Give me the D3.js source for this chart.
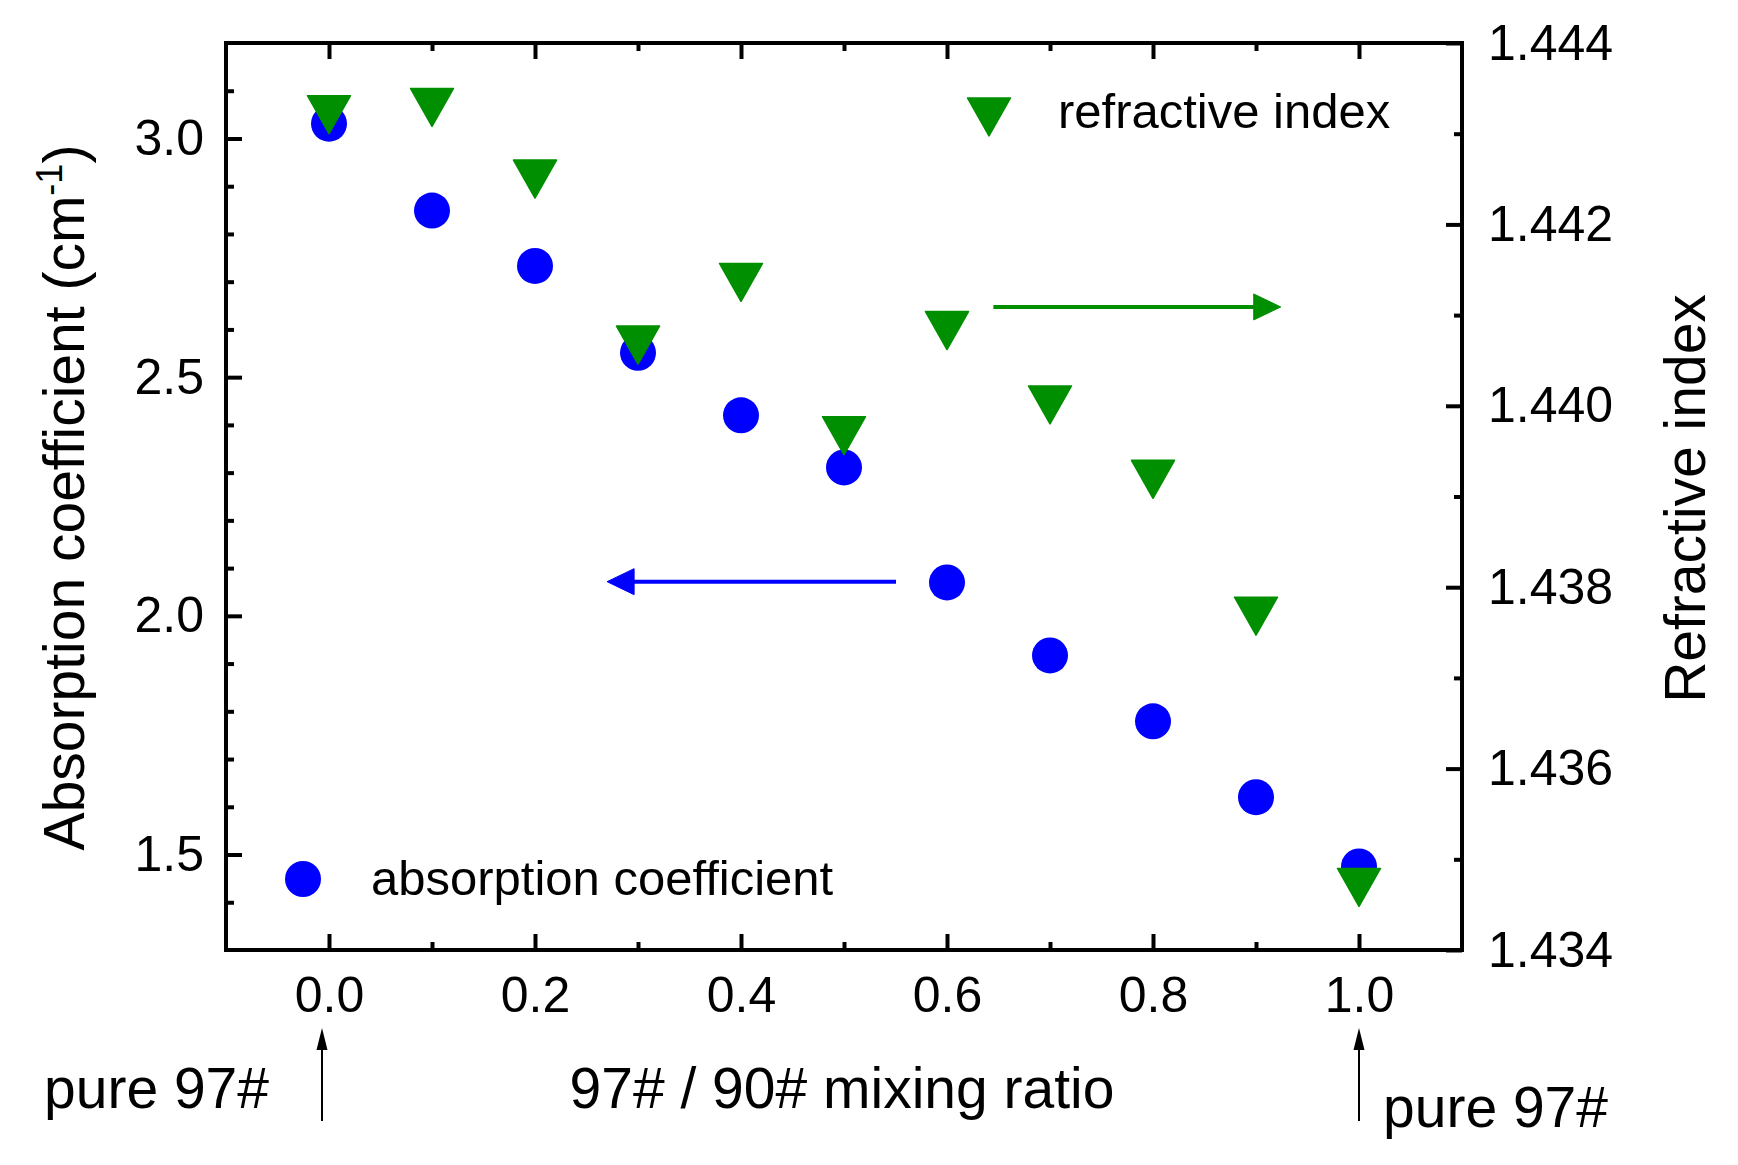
<!DOCTYPE html>
<html>
<head>
<meta charset="utf-8">
<script src="https://cdn.jsdelivr.net/npm/d3@7"></script>
<style>
  html, body { margin: 0; padding: 0; background: #fff; }
  svg { display: block; }
  text { font-family: "Liberation Sans", Arial, sans-serif; fill: #000; }
</style>
</head>
<body>
<svg id="chart" width="1738" height="1165"></svg>
<script>
// ---------------- data ----------------
const mixingRatio = [0.0, 0.1, 0.2, 0.3, 0.4, 0.5, 0.6, 0.7, 0.8, 0.9, 1.0];
const absorption  = [3.031, 2.849, 2.733, 2.551, 2.420, 2.311, 2.070, 1.917, 1.779, 1.620, 1.475];
const refractive  = [1.44321, 1.44329, 1.44250, 1.44067, 1.44136, 1.43967, 1.44083, 1.44001, 1.43919, 1.43768, 1.43469];

const xMajorTicks = [0.0, 0.2, 0.4, 0.6, 0.8, 1.0];
const xMinorTicks = [0.1, 0.3, 0.5, 0.7, 0.9];
const xTickLabels = ["0.0", "0.2", "0.4", "0.6", "0.8", "1.0"];
const leftMajorTicks = [1.5, 2.0, 2.5, 3.0];
const leftMinorTicks = [1.4, 1.6, 1.7, 1.8, 1.9, 2.1, 2.2, 2.3, 2.4, 2.6, 2.7, 2.8, 2.9, 3.1];
const leftTickLabels = ["1.5", "2.0", "2.5", "3.0"];
const rightMajorTicks = [1.434, 1.436, 1.438, 1.440, 1.442, 1.444];
const rightMinorTicks = [1.435, 1.437, 1.439, 1.441, 1.443];
const rightTickLabels = ["1.434", "1.436", "1.438", "1.440", "1.442", "1.444"];

const xTitle = "97# / 90# mixing ratio";
const leftTitle = "Absorption coefficient (cm";
const leftTitleSup = "-1";
const rightTitle = "Refractive index";
const legendLabels = ["refractive index", "absorption coefficient"];
const pureLabels = ["pure 97#", "pure 97#"];

// direction arrows (in data units): x start, x end, y value
const greenArrow = { x1: 0.645, x2: 0.924, y: 1.44109 };
const blueArrow  = { x1: 0.5505, x2: 0.270, y: 2.0716 };

// ---------------- layout ----------------
const blue = "#0000ff";
const green = "#008f00";
const L = 226, R = 1462, T = 43, B = 950;

const x = d3.scaleLinear().domain([-0.1, 1.1]).range([L, R]);
const yL = d3.scaleLinear().domain([1.3, 3.2]).range([B, T]);
const yR = d3.scaleLinear().domain([1.434, 1.444]).range([B, T]);

const svg = d3.select("#chart");
const FS = 50, LFS = 49, TFS = 57;

function styleAxis(g) {
  g.select(".domain").remove();
  g.selectAll(".tick line").attr("stroke", "#000").attr("stroke-width", 4);
  g.selectAll(".tick text").attr("font-size", FS).attr("font-family", '"Liberation Sans", Arial, sans-serif').attr("fill", "#000");
}

// bottom
svg.append("g").attr("transform", `translate(0,${B})`)
  .call(d3.axisBottom(x).tickValues(xMajorTicks).tickSize(-16).tickPadding(26)
        .tickFormat((d, i) => xTickLabels[i]))
  .call(styleAxis);
svg.append("g").attr("transform", `translate(0,${B})`)
  .call(d3.axisBottom(x).tickValues(xMinorTicks).tickSize(-8).tickFormat(""))
  .call(styleAxis);
// top
svg.append("g").attr("transform", `translate(0,${T})`)
  .call(d3.axisTop(x).tickValues(xMajorTicks).tickSize(-16).tickFormat(""))
  .call(styleAxis);
svg.append("g").attr("transform", `translate(0,${T})`)
  .call(d3.axisTop(x).tickValues(xMinorTicks).tickSize(-8).tickFormat(""))
  .call(styleAxis);
// left
svg.append("g").attr("transform", `translate(${L},0)`)
  .call(d3.axisLeft(yL).tickValues(leftMajorTicks).tickSize(-16).tickPadding(22)
        .tickFormat((d, i) => leftTickLabels[i]))
  .call(styleAxis);
svg.append("g").attr("transform", `translate(${L},0)`)
  .call(d3.axisLeft(yL).tickValues(leftMinorTicks).tickSize(-8).tickFormat(""))
  .call(styleAxis);
// right
svg.append("g").attr("transform", `translate(${R},0)`)
  .call(d3.axisRight(yR).tickValues(rightMajorTicks).tickSize(-16).tickPadding(26)
        .tickFormat((d, i) => rightTickLabels[i]))
  .call(styleAxis);
svg.append("g").attr("transform", `translate(${R},0)`)
  .call(d3.axisRight(yR).tickValues(rightMinorTicks).tickSize(-8).tickFormat(""))
  .call(styleAxis);

// frame
svg.append("rect").attr("x", L).attr("y", T).attr("width", R - L).attr("height", B - T)
  .attr("fill", "none").attr("stroke", "#000").attr("stroke-width", 4);

// markers
const triPath = "M-21.5,-19L21.5,-19L0,19Z";
const circR = 18;

svg.append("g").selectAll("circle").data(mixingRatio).join("circle")
  .attr("cx", d => x(d)).attr("cy", (d, i) => yL(absorption[i])).attr("r", circR)
  .attr("fill", blue);

svg.append("g").selectAll("path").data(mixingRatio).join("path")
  .attr("d", triPath)
  .attr("transform", (d, i) => `translate(${x(d)},${yR(refractive[i])})`)
  .attr("fill", green).attr("stroke", green).attr("stroke-width", 1.5).attr("stroke-linejoin", "round");

// legends
svg.append("path").attr("d", triPath).attr("transform", "translate(989,117)")
  .attr("fill", green).attr("stroke", green).attr("stroke-width", 1.5).attr("stroke-linejoin", "round");
svg.append("text").attr("x", 1058).attr("y", 128).attr("font-size", LFS).text(legendLabels[0]);
svg.append("circle").attr("cx", 303).attr("cy", 879).attr("r", circR).attr("fill", blue);
svg.append("text").attr("x", 371).attr("y", 895).attr("font-size", LFS).text(legendLabels[1]);

// colored direction arrows
function hArrow(a, scaleY, color) {
  const y = scaleY(a.y);
  const x1 = x(a.x1), x2 = x(a.x2);
  const dir = Math.sign(x2 - x1);
  const headLen = 27, headHalf = 13;
  svg.append("line").attr("x1", x1).attr("y1", y).attr("x2", x2 - dir * headLen + dir * 2).attr("y2", y)
    .attr("stroke", color).attr("stroke-width", 4);
  svg.append("path")
    .attr("d", `M${x2},${y}L${x2 - dir * headLen},${y - headHalf}L${x2 - dir * headLen},${y + headHalf}Z`)
    .attr("fill", color).attr("stroke", color).attr("stroke-width", 1).attr("stroke-linejoin", "round");
}
hArrow(greenArrow, yR, green);
hArrow(blueArrow, yL, blue);

// axis titles
svg.append("text").attr("x", (L + R) / 2 - 2).attr("y", 1108).attr("text-anchor", "middle")
  .attr("font-size", TFS).text(xTitle);

const lt = svg.append("text").attr("transform", `translate(84,${(T + B) / 2 + 1}) rotate(-90)`)
  .attr("text-anchor", "middle").attr("font-size", TFS);
lt.append("tspan").text(leftTitle);
lt.append("tspan").attr("font-size", 36).attr("dy", -22).text(leftTitleSup);
lt.append("tspan").attr("dy", 22).text(")");

svg.append("text").attr("transform", `translate(1705,${(T + B) / 2 + 2}) rotate(-90)`)
  .attr("text-anchor", "middle").attr("font-size", TFS).text(rightTitle);

// "pure 97#" annotations with small black arrows
svg.append("text").attr("x", 44).attr("y", 1108).attr("font-size", TFS).text(pureLabels[0]);
svg.append("text").attr("x", 1383).attr("y", 1127).attr("font-size", TFS).text(pureLabels[1]);

function vArrow(xp) {
  const top = 1028, bot = 1121;
  svg.append("line").attr("x1", xp).attr("y1", top + 18).attr("x2", xp).attr("y2", bot)
    .attr("stroke", "#000").attr("stroke-width", 2);
  svg.append("path").attr("d", `M${xp},${top}L${xp - 5.5},${top + 22}L${xp + 5.5},${top + 22}Z`)
    .attr("fill", "#000");
}
vArrow(x(0) - 7);
vArrow(x(1));
</script>
</body>
</html>
